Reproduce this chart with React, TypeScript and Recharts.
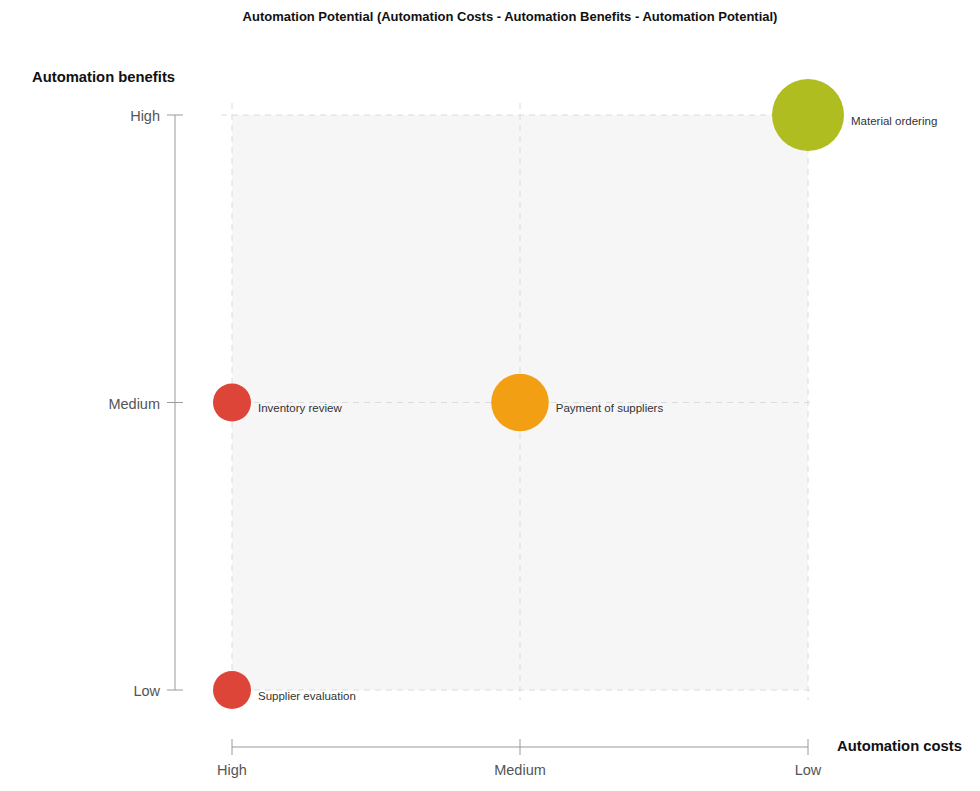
import React from 'react';
import { ScatterChart, Scatter, XAxis, YAxis, ZAxis, CartesianGrid } from 'recharts';

const costLevels = ['High', 'Medium', 'Low'];
const benefitLevels = ['Low', 'Medium', 'High'];
const potentialLevels = ['Low', 'Medium', 'High'];

const processNames = ['Material ordering', 'Payment of suppliers', 'Inventory review', 'Supplier evaluation'];
const processCosts = ['Low', 'Medium', 'High', 'High'];
const processBenefits = ['High', 'Medium', 'Medium', 'Low'];
const processPotential = ['High', 'Medium', 'Low', 'Low'];

const potentialColors: Record<string, string> = {
  High: '#afbd21',
  Medium: '#f29f14',
  Low: '#dd4539',
};

const data = processNames.map((name, i) => ({
  name,
  x: costLevels.indexOf(processCosts[i]),
  y: benefitLevels.indexOf(processBenefits[i]),
  z: potentialLevels.indexOf(processPotential[i]) + 1,
  potential: processPotential[i],
}));

const FONT = '"Liberation Sans", Arial, Helvetica, sans-serif';
const AXIS = '#9a9a9a';

const XTick = (props: any) => {
  const { x, y, payload } = props;
  return (
    <g>
      <line x1={x} x2={x} y1={y + 49} y2={y + 65} stroke={AXIS} strokeWidth={1} />
      <text x={x} y={y + 85} textAnchor="middle" fontSize={14.5} fill="#555" fontFamily={FONT}>
        {costLevels[payload.value]}
      </text>
    </g>
  );
};

const YTick = (props: any) => {
  const { x, y, payload } = props;
  return (
    <g>
      <line x1={x - 65} x2={x - 49} y1={y} y2={y} stroke={AXIS} strokeWidth={1} />
      <text x={x - 72} y={y + 6} textAnchor="end" fontSize={14.5} fill="#555" fontFamily={FONT}>
        {benefitLevels[payload.value]}
      </text>
    </g>
  );
};

const Bubble = (props: any) => {
  const { cx, cy, size, payload } = props;
  const r = Math.sqrt(size / Math.PI);
  return (
    <g>
      <circle cx={cx} cy={cy} r={r} fill={potentialColors[payload.potential]} />
      <text x={cx + r + 7} y={cy + 9.5} fontSize={11.5} fill="#333" fontFamily={FONT}>
        {payload.name}
      </text>
    </g>
  );
};

const HLine = (props: any) => (
  <line
    key={props.key}
    x1={props.x1 - 11}
    x2={props.x2 + 7}
    y1={props.y1}
    y2={props.y2}
    stroke="#dcdcdc"
    strokeDasharray="6 5"
  />
);

const VLine = (props: any) => (
  <line
    key={props.key}
    x1={props.x1}
    x2={props.x2}
    y1={props.y1 - 12}
    y2={props.y2 + 10}
    stroke="#dcdcdc"
    strokeDasharray="6 5"
  />
);

export default function App() {
  return (
    <div style={{ position: 'absolute', left: 0, top: 0, width: 980, height: 791, background: '#fff', fontFamily: FONT }}>
      <div
        style={{
          position: 'absolute',
          left: 0,
          width: 1020,
          top: 9,
          textAlign: 'center',
          fontSize: 13,
          fontWeight: 'bold',
          color: '#111',
        }}
      >
        Automation Potential (Automation Costs - Automation Benefits - Automation Potential)
      </div>
      <div style={{ position: 'absolute', left: 32, top: 69, fontSize: 14.8, fontWeight: 'bold', color: '#111' }}>
        Automation benefits
      </div>
      <div style={{ position: 'absolute', left: 837, top: 738, fontSize: 14.8, fontWeight: 'bold', color: '#111' }}>
        Automation costs
      </div>
      <div style={{ position: 'absolute', left: 0, top: 0 }}>
        <ScatterChart width={980} height={791} margin={{ top: 115, right: 172, bottom: 41, left: 172 }}>
          <CartesianGrid
            fill="#f6f6f6"
            fillOpacity={1}
            stroke="#dcdcdc"
            strokeDasharray="6 5"
            horizontal={HLine as any}
            vertical={VLine as any}
          />
          <XAxis
            type="number"
            dataKey="x"
            domain={[0, 2]}
            ticks={[0, 1, 2]}
            height={60}
            tickSize={0}
            tickMargin={0}
            tickLine={false}
            axisLine={{ stroke: AXIS, transform: 'translate(0,57)' }}
            tick={<XTick />}
            interval={0}
          />
          <YAxis
            type="number"
            dataKey="y"
            domain={[0, 2]}
            ticks={[0, 1, 2]}
            width={60}
            tickSize={0}
            tickMargin={0}
            tickLine={false}
            axisLine={{ stroke: AXIS, transform: 'translate(-57,0)' }}
            tick={<YTick />}
            interval={0}
          />
          <ZAxis type="number" dataKey="z" domain={[1, 3]} range={[1134, 4072]} />
          <Scatter data={data} shape={<Bubble />} isAnimationActive={false} />
        </ScatterChart>
      </div>
    </div>
  );
}
